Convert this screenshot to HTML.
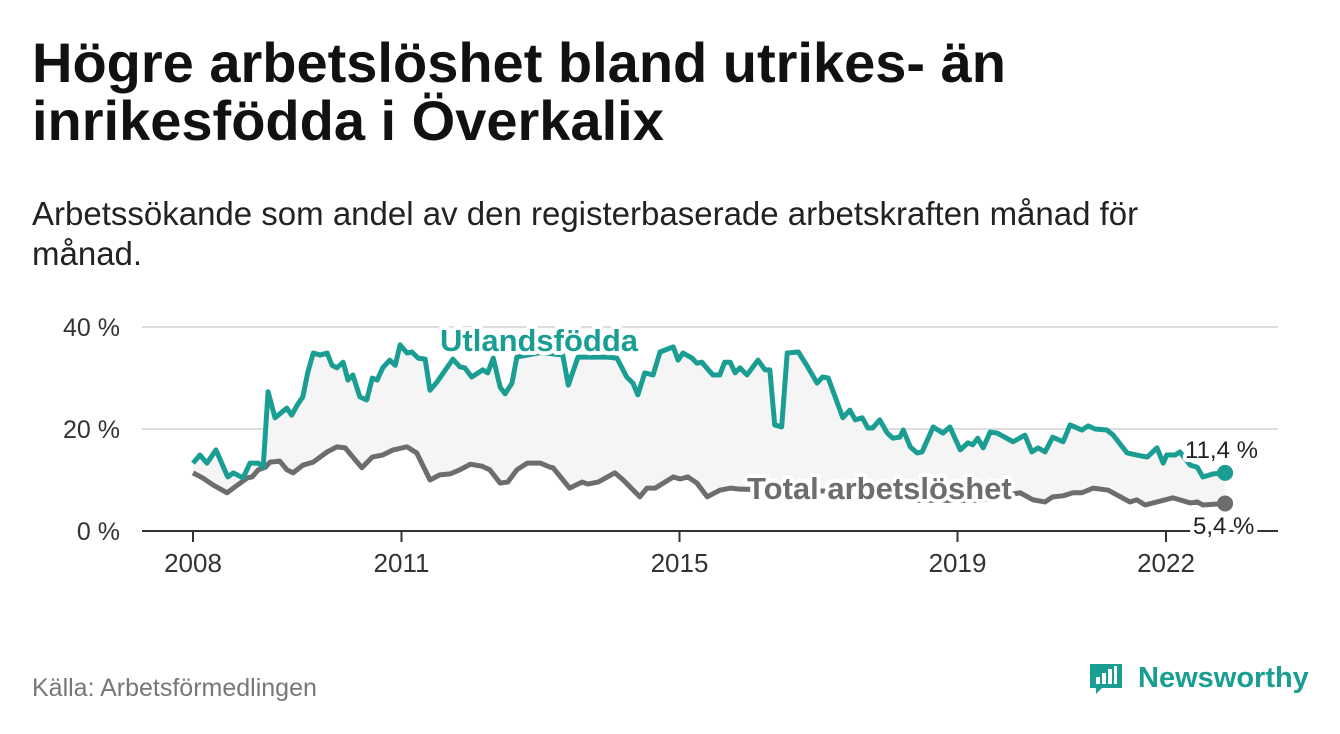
<!DOCTYPE html>
<html><head><meta charset="utf-8"><style>
body{margin:0;width:1340px;height:734px;background:#fff;font-family:"Liberation Sans",sans-serif;overflow:hidden;position:relative}
.t{position:absolute;left:32px;top:34px;font-size:56px;font-weight:bold;line-height:58px;color:#111;margin:0;white-space:nowrap}
.s{position:absolute;left:32px;top:194px;font-size:33px;line-height:40px;color:#222;margin:0;white-space:nowrap}
.src{position:absolute;left:32px;top:674px;font-size:25px;color:#777}
.logo{position:absolute;left:1088px;top:660px;display:flex;align-items:center;color:#1a9e93;font-size:29px;font-weight:bold}
svg{position:absolute;left:0;top:0}
</style></head><body>
<h1 class="t">Högre arbetslöshet bland utrikes- än<br>inrikesfödda i Överkalix</h1>
<p class="s">Arbetssökande som andel av den registerbaserade arbetskraften månad för<br>månad.</p>
<div class="src">Källa: Arbetsförmedlingen</div>
<div class="logo"><svg style="position:static" width="36" height="36" viewBox="0 0 36 36"><path d="M2 4h32v24H14l-6 6v-6H2z" fill="#1a9e93"/><rect x="8" y="17" width="4" height="7" fill="#fff"/><rect x="14" y="13" width="4" height="11" fill="#fff"/><rect x="20" y="9" width="4" height="15" fill="#fff"/><rect x="26" y="6" width="3" height="18" fill="#fff"/></svg><span style="margin-left:14px">Newsworthy</span></div>
<svg id="c" width="1340" height="734"></svg>
<script>
const yTicks=[0,20,40];
const yTickLabels=["0 %","20 %","40 %"];
const xTicks=[2008,2011,2015,2019,2022];
const foreignDates=[2008.00,2008.10,2008.20,2008.33,2008.50,2008.58,2008.72,2008.82,2008.94,2009.01,2009.08,2009.18,2009.35,2009.42,2009.50,2009.58,2009.65,2009.73,2009.83,2009.93,2010.00,2010.07,2010.16,2010.23,2010.30,2010.40,2010.50,2010.58,2010.65,2010.73,2010.83,2010.91,2010.98,2011.08,2011.15,2011.24,2011.34,2011.41,2011.51,2011.74,2011.84,2011.91,2012.01,2012.17,2012.24,2012.32,2012.42,2012.49,2012.59,2012.66,2013.00,2013.32,2013.40,2013.54,2013.96,2014.10,2014.24,2014.33,2014.40,2014.50,2014.62,2014.72,2014.91,2014.98,2015.05,2015.18,2015.25,2015.32,2015.48,2015.58,2015.65,2015.73,2015.80,2015.87,2015.97,2016.13,2016.23,2016.30,2016.37,2016.47,2016.55,2016.71,2016.83,2016.98,2017.06,2017.14,2017.35,2017.45,2017.53,2017.63,2017.71,2017.78,2017.88,2017.99,2018.07,2018.17,2018.22,2018.32,2018.42,2018.49,2018.65,2018.79,2018.89,2019.04,2019.15,2019.22,2019.29,2019.37,2019.47,2019.57,2019.80,2019.97,2020.07,2020.16,2020.26,2020.37,2020.52,2020.62,2020.79,2020.88,2020.98,2021.15,2021.24,2021.44,2021.58,2021.73,2021.87,2021.96,2022.01,2022.13,2022.20,2022.35,2022.45,2022.53,2022.68,2022.85];
const foreignValues=[13.3,14.9,13.3,15.9,10.6,11.4,10.4,13.3,13.3,12.5,27.3,22.2,24.1,22.7,24.7,26.3,31,34.9,34.5,34.9,32.5,32,33.1,29.6,30.6,26.3,25.7,30,29.6,32,33.5,32.5,36.5,34.9,35.1,33.9,33.7,27.6,29.2,33.7,32.2,32,30.2,31.6,31,33.9,28.2,26.9,29,34.1,35,34.5,28.6,34.1,34.1,33.9,30.2,29,26.7,31,30.6,35.1,36.1,33.5,34.9,33.9,32.9,33.1,30.6,30.6,33.1,33.1,31,32,30.6,33.5,31.6,31.6,20.8,20.4,34.9,35.1,32.5,29,30.2,30,22.2,23.7,21.8,22.2,20.2,20.2,21.8,19.2,18.2,18.4,19.8,16.5,15.3,15.5,20.4,19.2,20.4,15.9,17.3,16.9,18.2,16.3,19.4,19.2,17.5,18.8,15.5,16.3,15.5,18.4,17.5,20.8,19.8,20.6,20,19.8,18.8,15.3,14.9,14.5,16.3,13.3,14.9,14.9,15.5,12.9,12.5,10.6,11.2,11.4];
const totalDates=[2008.00,2008.14,2008.29,2008.49,2008.60,2008.78,2008.85,2008.94,2009.04,2009.11,2009.25,2009.35,2009.44,2009.58,2009.73,2009.93,2010.07,2010.19,2010.30,2010.43,2010.58,2010.73,2010.88,2011.08,2011.22,2011.41,2011.55,2011.70,2011.84,2011.99,2012.16,2012.27,2012.42,2012.53,2012.66,2012.81,2013.00,2013.14,2013.18,2013.42,2013.60,2013.68,2013.83,2014.07,2014.19,2014.43,2014.53,2014.65,2014.91,2015.01,2015.12,2015.25,2015.40,2015.58,2015.73,2015.87,2016.73,2017.60,2018.46,2019.32,2019.90,2020.09,2020.26,2020.37,2020.52,2020.66,2020.79,2020.95,2021.17,2021.29,2021.48,2021.58,2021.70,2021.87,2022.10,2022.20,2022.35,2022.45,2022.53,2022.85];
const totalValues=[11.4,10.4,9,7.5,8.6,10.4,10.6,12,12.5,13.5,13.7,12,11.4,12.9,13.5,15.5,16.5,16.3,14.5,12.4,14.5,14.9,15.9,16.5,15.3,10,11,11.2,12,13.1,12.7,12,9.4,9.6,12,13.3,13.3,12.5,12.4,8.4,9.6,9.2,9.6,11.4,10,6.7,8.4,8.4,10.6,10.2,10.6,9.4,6.7,8,8.4,8.2,8,7.6,6,6,7.5,6.1,5.7,6.7,6.9,7.5,7.5,8.4,8,7.1,5.7,6.1,5.1,5.7,6.5,6.1,5.5,5.7,5.1,5.4];
const X=d=>193+(d-2008)*69.5;
const Y=v=>531-v*5.1;
const svg=document.getElementById('c');const NS='http://www.w3.org/2000/svg';
function mk(t,a,p){const e=document.createElementNS(NS,t);for(const k in a)e.setAttribute(k,a[k]);(p||svg).appendChild(e);return e;}
yTicks.forEach((v,i)=>{
 if(v>0){const g=mk('line',{x1:142,x2:1278,y1:Y(v),y2:Y(v),stroke:'#ddd','stroke-width':2});
 
 }
 const t=mk('text',{x:120,y:Y(v)+9,'text-anchor':'end','font-size':25,fill:'#333'});t.textContent=yTickLabels[i];
 
 
});
const pts=(ds,vs)=>ds.map((d,i)=>X(d)+','+Y(vs[i])).join(' ');
const area=mk('polygon',{points:pts(foreignDates,foreignValues)+' '+pts(totalDates.slice().reverse(),totalValues.slice().reverse()),fill:'#f5f5f5'});


const ax=mk('line',{x1:142,x2:1278,y1:531,y2:531,stroke:'#333','stroke-width':2});


xTicks.forEach(y=>{
 const l=mk('line',{x1:X(y),x2:X(y),y1:531,y2:542,stroke:'#333','stroke-width':2});
 
 
 const t=mk('text',{x:X(y),y:572,'text-anchor':'middle','font-size':26,fill:'#333'});t.textContent=y;
 
 
});
const lt=mk('polyline',{points:pts(totalDates,totalValues),fill:'none',stroke:'#6d6d6f','stroke-width':5,'stroke-linejoin':'round'});


const lf=mk('polyline',{points:pts(foreignDates,foreignValues),fill:'none',stroke:'#1a9e93','stroke-width':5,'stroke-linejoin':'round'});


function lab(x,y,txt,col,size,w,anchor,name){const t=mk('text',{x:x,y:y,'font-size':size,'font-weight':w,fill:col,stroke:'#fff','stroke-width':8,'paint-order':'stroke','stroke-linejoin':'round','text-anchor':anchor||'start'});t.textContent=txt;}
lab(440,351,'Utlandsfödda','#1a9e93',31,'bold','start','foreign-born-label');
lab(747,499,'Total arbetslöshet','#6d6d6f',31,'bold','start','total-label');
const lastF=foreignValues.length-1,lastT=totalValues.length-1;
const d1=mk('circle',{cx:X(foreignDates[lastF]),cy:Y(foreignValues[lastF]),r:8,fill:'#1a9e93'});


const d2=mk('circle',{cx:X(totalDates[lastT]),cy:Y(totalValues[lastT]),r:8,fill:'#6d6d6f'});


lab(1185,458,'11,4 %','#222',24,'normal','start','foreign-end-value');
lab(1193,534,'5,4 %','#222',24,'normal','start','total-end-value');
</script>
</body></html>
